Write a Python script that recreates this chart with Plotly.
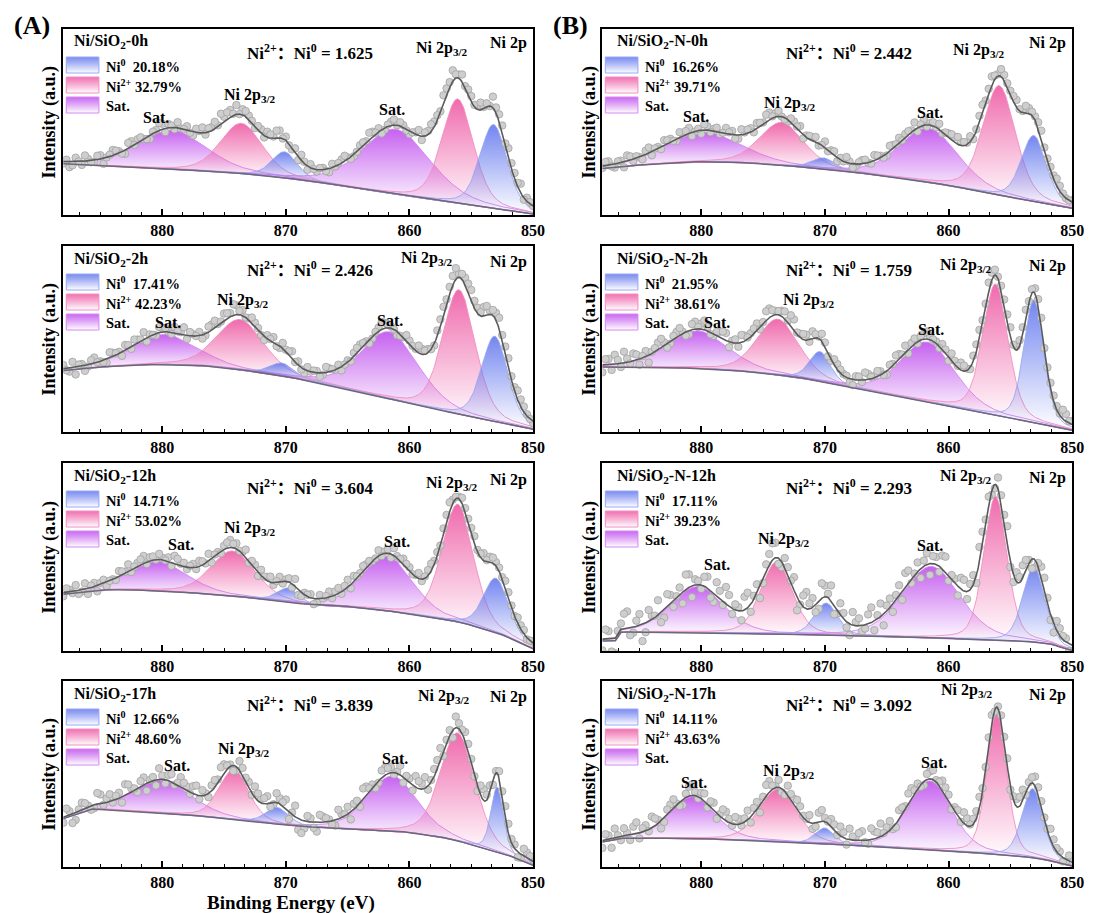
import numpy as np
import plotly.graph_objects as go

FONT = "Liberation Serif"
FONT_CJK = "Liberation Serif, Noto Sans CJK SC"

# binding-energy axis (reversed, eV)
E_LEFT, E_RIGHT = 888.0, 850.0
TICK_EV = [880, 870, 860, 850]
POINT_STEP = 0.5          # each residual list is sampled every 0.5 eV; the second list is offset by 0.25 eV

# fitted components, same order in every panel
PEAK_KIND = ["Ni0", "Ni2+", "Sat", "Ni0", "Ni2+", "Sat"]

# ---------------- Ni/SiO2 series ----------------
A1_title, A1_ni0, A1_ni2, A1_ratio = "Ni/SiO<sub>2</sub>-0h", "20.18%", "32.79%", "1.625"
A1_bg_ev = [888, 882, 876, 872, 868, 864, 860, 856, 852, 850]
A1_bg_int = [27.5, 25.5, 23.5, 21.5, 18.3, 14.0, 10.0, 6.3, 2.5, 0.5]
A1_center = [853.2, 856.1, 861.1, 870.1, 873.6, 879.2]
A1_height = [45, 56, 35, 14, 27, 21]
A1_fwhm = [2.6, 3.0, 6.5, 2.4, 4.0, 6.5]
A1_resid = [-1, -3, 2, -2, 1, -1, 2, 0, 3, 1, -2,
            3, 2, 0, -2, 1, 3, 2, -1, 0, 2, -2,
            1, -1, 2, 1, 3, 4, 5, 3, 2, -1, 2,
            3, 1, 4, 2, -1, -2, 1, 2, -1, 1, -2,
            0, 2, 1, -1, 2, 1, 3, 2, -1, 2, 0,
            1, -2, 1, -2, 2, 3, 1, 4, 6, 2, 1,
            3, 2, 1, 0, 3, 4, 5, 3, 5, 2, 0]
A1_resid2 = [1, -2, 0, 3, -1, 2, -3, 1, 2, -1, 3,
             0, 2, -1, 1, 4, -2, 1, 3, 0, -1, 2,
             3, 2, 4, 6, 4, 1, 0, 3, 1, 2, -1,
             2, 4, 0, -1, 2, 3, -2, 0, 1, -1, 2,
             1, 3, -1, 0, 2, 4, 1, -2, 1, 3, 2,
             -1, 0, 3, 2, 4, 3, 5, 3, 2, 4, 3,
             1, 4, 2, 6, 4, 1, 3, 2, -1, 1]

A2_title, A2_ni0, A2_ni2, A2_ratio = "Ni/SiO<sub>2</sub>-2h", "17.41%", "42.23%", "2.426"
A2_bg_ev = [888, 884, 880, 876, 872, 868, 864, 860, 856, 852, 850]
A2_bg_int = [33, 35.5, 36.5, 35.5, 32, 27.5, 21.5, 15.3, 9.5, 4, 1.5]
A2_center = [853.1, 856.0, 861.6, 870.3, 873.7, 879.8]
A2_height = [46, 67, 36, 7, 27, 16]
A2_fwhm = [2.5, 3.1, 5.5, 2.2, 4.5, 6.0]
A2_resid = [2, -2, -4, 1, -1, 3, 0, -2, 2, 1, 3,
            -1, 2, 4, 1, -1, 2, 0, 3, 1, -2, 1,
            2, -1, 3, 1, 4, 2, 5, 3, 1, 2, -1,
            2, 3, -1, 1, 4, 2, -2, 0, 1, -1, 2,
            0, -2, 1, 2, 3, 1, -1, 2, 3, 1, -2,
            0, 2, 1, 3, 2, -1, 4, 3, 5, 2, 4,
            6, 3, 5, 2, 4, 3, 5, 2, 4, 1, -1]
A2_resid2 = [-1, 3, 1, -3, 2, 0, -1, 3, 1, -2, 2,
             3, 1, -2, 0, 3, 2, -1, 1, 4, 2, 0,
             -2, 3, 4, 1, 3, 6, 2, 0, 3, 1, -2,
             1, -1, 3, 2, 0, -1, 2, 1, -2, 3, 1,
             2, 0, -1, 3, 2, -2, 1, 4, 2, 0, -1,
             3, 1, 4, 2, 0, 3, 5, 4, 6, 3, 5,
             4, 2, 5, 3, 6, 4, 2, 5, 3, 0]

A3_title, A3_ni0, A3_ni2, A3_ratio = "Ni/SiO<sub>2</sub>-12h", "14.71%", "53.02%", "3.604"
A3_bg_ev = [888, 884, 880, 876, 872, 868, 864.5, 860, 856, 854, 852, 850]
A3_bg_int = [30.2, 32.9, 32.0, 30.2, 27.9, 24.5, 23.5, 19.9, 15.5, 11.9, 7.5, 1.2]
A3_center = [853.0, 856.1, 861.8, 869.8, 874.3, 880.3]
A3_height = [29, 62.5, 29, 7.5, 24, 15.5]
A3_fwhm = [2.4, 3.0, 4.8, 2.0, 4.2, 5.5]
A3_resid = [-2, 1, 3, -1, -3, 2, 1, -2, 0, 3, 1,
            -1, 2, 4, 2, 0, 1, 2, 4, 1, -1, 2,
            3, 0, -2, 1, 2, 4, 3, 1, -1, 2, 3,
            2, -1, 3, 1, -2, -3, 1, 2, -2, 0, 3,
            2, -1, 4, 3, 1, 2, 0, 3, 1, -2, 1,
            3, 2, 1, -1, 3, 2, 0, 4, 2, 1, 2,
            3, 1, 4, 3, 2, 1, 3, 0, 2, -1, 1]
A3_resid2 = [2, -1, -2, 3, 1, -3, 2, 0, -1, 2, 4,
             1, 3, -1, 2, 3, 0, -2, 3, 2, 1, -1,
             2, 4, 1, -1, 3, 2, 0, 4, 2, -2, 1,
             3, 1, -1, 2, 4, -2, 1, -3, 2, 1, -1,
             3, 2, -2, 1, 3, 2, 0, -1, 2, 4, 1,
             2, 0, 3, 1, 4, 2, 3, 5, 1, 3, 2,
             4, 2, 1, 3, 2, 4, 1, 3, 2, 0]

A4_title, A4_ni0, A4_ni2, A4_ratio = "Ni/SiO<sub>2</sub>-17h", "12.66%", "48.60%", "3.839"
A4_bg_ev = [888, 885.5, 880, 876, 872, 870, 865, 860, 856.7, 853.8, 851.6, 850]
A4_bg_int = [26, 31.5, 29, 27, 24, 22.5, 20.2, 18.8, 15.2, 9.8, 5.4, 0.9]
A4_center = [852.9, 856.1, 861.4, 870.7, 874.2, 880.0]
A4_height = [35, 58, 29.7, 9, 26.7, 17.4]
A4_fwhm = [1.2, 3.3, 4.8, 2.2, 2.8, 5.5]
A4_resid = [-3, 2, -4, 4, 1, -2, 5, 2, -1, 3, 6,
            2, -2, 4, 1, -3, 2, 3, -1, 5, 2, 4,
            -2, 1, 3, 2, 5, 1, -2, 4, 3, 6, 2,
            4, -1, 3, 5, 1, -6, -4, 2, -5, 3, 1,
            -3, 2, 4, 3, -2, 5, 2, -1, 4, 3, 1,
            -3, 2, 6, 3, -2, 4, 7, 2, -4, 3, 5,
            2, -3, 6, 4, 1, 3, 5, 2, -2, 3, 1]
A4_resid2 = [4, -5, 1, 3, -2, 6, -1, 4, 2, -3, 5,
             1, 3, -4, 2, 6, -2, 4, 1, 3, -1, 5,
             3, -2, 4, 6, 2, -3, 5, 2, -1, 4, 3,
             -2, 5, 2, -4, 6, -7, 3, -3, 4, 2, -2,
             5, 1, -4, 3, 6, 2, -2, 4, 3, -1, 5,
             2, -3, 4, 6, 1, 5, -2, 3, 6, 2, 4,
             -1, 5, 3, -2, 4, 6, 2, -3, 4, 2]

# ---------------- Ni/SiO2-N series ----------------
B1_title, B1_ni0, B1_ni2, B1_ratio = "Ni/SiO<sub>2</sub>-N-0h", "16.26%", "39.71%", "2.442"
B1_bg_ev = [888, 884, 880, 876, 872, 868, 864, 860, 856, 852, 850]
B1_bg_int = [25, 27.5, 28.7, 28.1, 26, 23.3, 20, 16, 10.7, 5.9, 3.6]
B1_center = [853.1, 855.9, 861.6, 870.1, 873.5, 879.8]
B1_height = [35.5, 59, 29, 6, 23, 16]
B1_fwhm = [2.4, 3.1, 5.6, 2.2, 4.2, 7.0]
B1_resid = [-1, 2, -2, 1, 3, -1, 0, 2, -2, 1, 3,
            2, -1, 1, 3, 0, -2, 2, 1, -1, 3, 2,
            -2, 1, 2, 3, 1, 4, 2, 0, -1, 2, 3,
            1, 2, -1, 3, 1, -2, 0, 1, -1, 2, 0,
            3, 1, -1, 2, 3, 2, 1, -2, 3, 1, 0,
            -1, 2, 3, 2, 1, -1, 4, 2, 5, 1, 3,
            2, 4, 1, 3, 2, 4, 1, 2, 3, 0, 1]
B1_resid2 = [2, -1, 1, -3, 2, 1, -2, 3, 1, -1, 2,
             0, 3, 2, -2, 1, 3, -1, 2, 0, 1, -2,
             3, 2, -1, 2, 4, 1, 3, -1, 2, 1, -2,
             2, 3, 0, -1, 2, 1, 3, -2, 1, 2, -1,
             2, -1, 3, 1, 0, 2, 4, 1, -1, 2, 3,
             1, 3, 4, 2, 3, 1, 5, 3, 2, 4, 2,
             3, 1, 4, 2, 3, 1, 2, 4, 1, 0]

B2_title, B2_ni0, B2_ni2, B2_ratio = "Ni/SiO<sub>2</sub>-N-2h", "21.95%", "38.61%", "1.759"
B2_bg_ev = [888, 884, 880, 876, 872, 868, 864, 860, 856, 852, 850]
B2_bg_int = [34.9, 34.8, 34.3, 32.5, 29.2, 24.3, 19.2, 14.2, 8.8, 3.6, 0.9]
B2_center = [853.1, 856.2, 861.7, 870.4, 873.8, 880.3]
B2_height = [66, 70.5, 32, 16, 30, 20]
B2_fwhm = [1.9, 2.4, 5.2, 2.0, 4.0, 5.8]
B2_resid = [-4, 3, 5, -2, 2, 4, -3, 3, 1, 4, 2,
            -1, 3, 1, -2, 4, 3, 2, -1, 3, 4, 1,
            -2, 3, 2, 4, 1, 5, 2, 3, 1, 6, 2,
            3, 4, 1, 2, -1, 3, 1, -2, 2, -1, 3,
            1, 2, -2, 1, 3, 4, 2, -1, 3, 2, 1,
            3, -2, 2, 4, 1, 3, 5, 2, 4, 1, 3,
            5, 2, 4, 1, 3, 5, 2, 3, 1, 4, 2]
B2_resid2 = [3, -3, 2, 6, -1, 3, 1, -4, 2, 5, -2,
             2, 4, -2, 3, 1, 5, -1, 2, 4, -3, 2,
             4, 1, 3, -1, 5, 3, 2, 4, 6, 1, 3,
             -1, 2, 4, -2, 3, 2, 1, -3, 2, 4, 1,
             3, -1, 2, 4, 1, -2, 3, 2, 4, 1, -1,
             2, 4, 1, 3, -1, 4, 2, 5, 3, 2, 4,
             1, 3, 5, 2, 4, 1, 3, 2, 5, 1]

B3_title, B3_ni0, B3_ni2, B3_ratio = "Ni/SiO<sub>2</sub>-N-12h", "17.11%", "39.23%", "2.293"
B3_bg_ev = [888, 886.9, 886.5, 884, 880, 876, 872, 868, 864, 860, 856, 853, 851.5, 850.8, 850]
B3_bg_int = [5.3, 5.5, 10.0, 10.2, 9.8, 9.3, 8.8, 8.2, 7.5, 6.7, 5.8, 4.9, 3.5, 1.5, 0.3]
B3_center = [853.1, 856.2, 861.4, 869.9, 873.9, 880.3]
B3_height = [40, 76.5, 38, 17, 38.5, 24.5]
B3_fwhm = [2.1, 2.2, 5.5, 2.2, 3.0, 5.0]
B3_resid = [-6, 4, -8, 3, 9, -3, 6, -5, 2, 8, -4,
            5, 1, -6, 7, 3, -2, 6, -5, 4, 9, -3,
            2, 7, -4, 5, -2, 6, 8, -3, 4, 7, -1,
            9, 5, -4, 6, 8, -2, 3, -6, 2, -3, 5,
            -5, 7, 3, -4, 6, 8, -2, 5, 3, -6, 4,
            7, -3, 2, 6, -4, 5, 8, 3, -2, 6, 4,
            -3, 5, 7, 2, -4, 6, 3, -5, 4, 2, -3]
B3_resid2 = [5, -7, 2, 8, -4, 3, -9, 6, 1, -5, 7,
             -3, 4, 8, -6, 2, 5, -4, 7, -2, 6, 3,
             -5, 8, 2, -6, 4, 9, -3, 5, 1, -7, 6,
             3, -4, 8, 2, -5, 6, -3, 7, 4, -2, 8,
             2, -6, 5, 3, -4, 7, 1, -5, 6, 4, -3,
             8, 2, -5, 6, 3, -4, 7, 5, -2, 4, 9,
             -4, 3, 6, -5, 2, 7, -3, 5, 2, -4]

B4_title, B4_ni0, B4_ni2, B4_ratio = "Ni/SiO<sub>2</sub>-N-17h", "14.11%", "43.63%", "3.092"
B4_bg_ev = [888, 886, 880, 876, 872, 868, 864, 860, 856, 853, 851, 850]
B4_bg_int = [13.5, 15.8, 15.2, 14.5, 13.1, 11.8, 10.4, 8.6, 6.8, 5.0, 2.3, 0.5]
B4_center = [853.2, 856.1, 861.5, 870.0, 873.8, 880.7]
B4_height = [37, 76, 37, 8.5, 28, 22.5]
B4_fwhm = [2.0, 1.9, 4.2, 1.8, 3.6, 4.3]
B4_resid = [-4, 2, 5, -2, 1, 4, -3, 3, 6, 2, -2,
            4, 1, -3, 5, 2, 3, -2, 4, 1, 5, -1,
            3, 2, -3, 4, 2, 6, 1, -2, 5, 3, 4,
            1, -3, 5, 2, 4, -1, 3, 6, 2, 5, -2,
            4, 7, 3, -1, 5, 2, 6, 3, -2, 4, 1,
            5, 3, 2, -1, 4, 3, 6, 2, 5, 1, 3,
            -2, 4, 6, 2, 5, 3, 1, 4, 2, -1, 3]
B4_resid2 = [3, -5, 1, 4, -3, 6, 2, -1, 4, -4, 3,
             5, -2, 2, 6, -1, 4, 3, -3, 5, 2, 4,
             -1, 5, 3, -4, 6, 2, 4, -2, 3, 5, 1,
             4, -2, 6, 1, 3, 5, -3, 2, 4, -1, 6,
             3, 1, 5, -2, 4, 6, 2, -1, 3, 5, 2,
             4, -2, 3, 6, 1, 4, 2, 5, -1, 3, 4,
             2, 5, -1, 3, 4, 1, 6, 2, -2, 3]


def panel(title, ni0, ni2, ratio, bg_ev, bg_int, center, height, fwhm, resid, resid2):
    return dict(title=title, ni0=ni0, ni2=ni2, ratio=ratio, bg=(bg_ev, bg_int),
                peaks=(center, height, fwhm), resid=(resid, resid2))


PANELS = [
    panel(A1_title, A1_ni0, A1_ni2, A1_ratio, A1_bg_ev, A1_bg_int, A1_center, A1_height, A1_fwhm, A1_resid, A1_resid2),
    panel(A2_title, A2_ni0, A2_ni2, A2_ratio, A2_bg_ev, A2_bg_int, A2_center, A2_height, A2_fwhm, A2_resid, A2_resid2),
    panel(A3_title, A3_ni0, A3_ni2, A3_ratio, A3_bg_ev, A3_bg_int, A3_center, A3_height, A3_fwhm, A3_resid, A3_resid2),
    panel(A4_title, A4_ni0, A4_ni2, A4_ratio, A4_bg_ev, A4_bg_int, A4_center, A4_height, A4_fwhm, A4_resid, A4_resid2),
    panel(B1_title, B1_ni0, B1_ni2, B1_ratio, B1_bg_ev, B1_bg_int, B1_center, B1_height, B1_fwhm, B1_resid, B1_resid2),
    panel(B2_title, B2_ni0, B2_ni2, B2_ratio, B2_bg_ev, B2_bg_int, B2_center, B2_height, B2_fwhm, B2_resid, B2_resid2),
    panel(B3_title, B3_ni0, B3_ni2, B3_ratio, B3_bg_ev, B3_bg_int, B3_center, B3_height, B3_fwhm, B3_resid, B3_resid2),
    panel(B4_title, B4_ni0, B4_ni2, B4_ratio, B4_bg_ev, B4_bg_int, B4_center, B4_height, B4_fwhm, B4_resid, B4_resid2),
]

# ---------------- layout / styling ----------------
W, H = 1099, 913
COL_PX = [(64, 539), (609, 1084)]
ROW_PX = [(29, 215), (246, 432), (463, 651), (681, 867)]

# text anchors for the peak labels, (eV, intensity) in each panel's own axes
LABEL_POS = [
    dict(p32r=(857.4, 89.7), p32l=(872.9, 64.4), satr=(861.4, 56.8), satl=(880.5, 52.5), ni2p=92.4),
    dict(p32r=(858.6, 93.4), p32l=(873.5, 70.9), satr=(861.6, 60.1), satl=(879.5, 58.7), ni2p=91.6),
    dict(p32r=(856.6, 89.3), p32l=(872.9, 65.3), satr=(861.0, 58.2), satl=(878.5, 56.4), ni2p=91.1),
    dict(p32r=(857.2, 91.5), p32l=(873.4, 63.0), satr=(861.2, 58.4), satl=(878.8, 54.8), ni2p=91.5),
    dict(p32r=(857.5, 88.7), p32l=(872.8, 60.0), satr=(861.5, 55.2), satl=(880.4, 52.9), ni2p=92.3),
    dict(p32r=(858.6, 89.5), p32l=(871.3, 70.8), satr=(861.4, 55.3), satl=(878.7, 58.9), ni2p=89.0),
    dict(p32r=(858.6, 92.9), p32l=(873.3, 59.1), satr=(861.5, 56.1), satl=(878.7, 45.8), ni2p=92.0),
    dict(p32r=(858.5, 95.0), p32l=(872.9, 51.6), satr=(861.2, 56.1), satl=(880.6, 45.3), ni2p=92.5),
]

PEAK_RGB = {"Ni0": (100, 120, 238), "Ni2+": (238, 90, 164), "Sat": (192, 80, 238)}
PEAK_LINE = {"Ni0": "rgb(152,168,242)", "Ni2+": "rgb(242,142,194)", "Sat": "rgb(212,136,242)"}
DRAW_ORDER = [5, 2, 4, 1, 3, 0]
ETA = 0.3


def rgba(rgb, a):
    return "rgba(%d,%d,%d,%.3f)" % (rgb[0], rgb[1], rgb[2], a)


def pvoigt(x, c, h, w, eta=ETA):
    d2 = 4.0 * (x - c) ** 2 / w ** 2
    return h * ((1 - eta) * np.exp(-np.log(2) * d2) + eta / (1 + d2))


def baseline(x, ev, val):
    ev = np.asarray(ev, float)
    val = np.asarray(val, float)
    o = np.argsort(ev)
    return np.interp(x, ev[o], val[o])


def fit_curve(x, bg_ev, bg_int, cen, hgt, fw):
    return baseline(x, bg_ev, bg_int) + np.sum(
        [pvoigt(x, c, h, w) for c, h, w in zip(cen, hgt, fw)], axis=0)


def bold(s):
    return "<b>" + s + "</b>"


grid = np.linspace(E_RIGHT, E_LEFT, 761)
minor_vals = [850 + k * 10 / 6 for k in range(0, 23) if k % 6 != 0]

fig = go.Figure()
annotations = []
axes = {}

for i, p in enumerate(PANELS):
    n = i + 1
    ci, ri = i // 4, i % 4
    sfx = "" if n == 1 else str(n)
    xr, yr = "x" + sfx, "y" + sfx
    l, r = COL_PX[ci]
    t, b = ROW_PX[ri]
    ph, pw = b - t, r - l

    axes["xaxis" + sfx] = dict(
        domain=[l / W, r / W], range=[E_LEFT, E_RIGHT], anchor=yr,
        showline=True, linecolor="black", linewidth=2, mirror=True,
        ticks="inside", ticklen=6, tickwidth=1.5, tickcolor="black",
        tickmode="array", tickvals=TICK_EV, ticktext=[str(v) for v in TICK_EV],
        tickfont=dict(family=FONT, size=16, color="black", weight="bold"),
        minor=dict(ticks="inside", ticklen=3, tickwidth=1.2, tickcolor="black",
                   tickmode="array", tickvals=minor_vals),
        showgrid=False, zeroline=False, fixedrange=True,
    )
    axes["yaxis" + sfx] = dict(
        domain=[1 - b / H, 1 - t / H], range=[0, 100], anchor=xr,
        showline=True, linecolor="black", linewidth=2, mirror=True,
        ticks="", showticklabels=False, showgrid=False, zeroline=False, fixedrange=True,
    )

    bg_ev, bg_int = p["bg"]
    cen, hgt, fw = p["peaks"]
    bg_g = baseline(grid, bg_ev, bg_int)
    comps = [pvoigt(grid, c, h, w) for c, h, w in zip(cen, hgt, fw)]
    env = bg_g + np.sum(comps, axis=0)

    # fitted components, shaded from the baseline up
    for k in DRAW_ORDER:
        comp = comps[k]
        m = comp > 0.004 * hgt[k]
        core = comp > 0.1 * hgt[k]
        xk, top, bot = grid[m], bg_g[m] + comp[m], bg_g[m]
        kind = PEAK_KIND[k]
        rgb = PEAK_RGB[kind]
        fig.add_trace(go.Scatter(
            x=np.r_[xk, xk[::-1]], y=np.r_[top, bot[::-1]],
            mode="lines", fill="toself",
            line=dict(color=PEAK_LINE[kind], width=0.9),
            fillgradient=dict(type="vertical",
                              start=float(bg_g[core].min()), stop=float(top.max()),
                              colorscale=[[0, rgba(rgb, 0.02)], [1, rgba(rgb, 0.9)]]),
            xaxis=xr, yaxis=yr, hoverinfo="skip", showlegend=False,
        ))

    # measured points = fit envelope + residual (two interleaved 0.5 eV sets)
    for off, res in zip((0.0, 0.25), p["resid"]):
        res = np.asarray(res, float)
        ev_pts = E_LEFT - off - POINT_STEP * np.arange(len(res))
        fig.add_trace(go.Scatter(
            x=ev_pts, y=fit_curve(ev_pts, bg_ev, bg_int, cen, hgt, fw) + res, mode="markers",
            marker=dict(size=7.5, color="#cecece", line=dict(color="#a2a2a2", width=0.8)),
            xaxis=xr, yaxis=yr, hoverinfo="skip", showlegend=False,
        ))
    # baseline and envelope
    fig.add_trace(go.Scatter(x=grid, y=bg_g, mode="lines", line=dict(color="#6b6878", width=1.5),
                             xaxis=xr, yaxis=yr, hoverinfo="skip", showlegend=False))
    fig.add_trace(go.Scatter(x=grid, y=env, mode="lines", line=dict(color="#5a5a5a", width=1.6),
                             xaxis=xr, yaxis=yr, hoverinfo="skip", showlegend=False))

    # legend block in the upper-left corner
    def px2ev(dx):
        return E_LEFT - dx / pw * (E_LEFT - E_RIGHT)

    def py2u(dy):
        return 100 - dy / ph * 100

    sx0, sx1 = px2ev(3), px2ev(36)
    legend_rows = [("Ni0", "Ni<sup>0</sup>  " + p["ni0"]),
                   ("Ni2+", "Ni<sup>2+</sup> " + p["ni2"]),
                   ("Sat", "Sat.")]
    for j, (kind, txt) in enumerate(legend_rows):
        off = 28 + 20 * j
        yt, yb = py2u(off), py2u(off + 16)
        rgb = PEAK_RGB[kind]
        fig.add_trace(go.Scatter(
            x=[sx0, sx1, sx1, sx0, sx0], y=[yb, yb, yt, yt, yb],
            mode="lines", fill="toself", line=dict(color=PEAK_LINE[kind], width=1),
            fillgradient=dict(type="vertical",
                              colorscale=[[0, "rgba(255,255,255,1)"], [1, rgba(rgb, 0.85)]]),
            xaxis=xr, yaxis=yr, hoverinfo="skip", showlegend=False,
        ))
        annotations.append(dict(
            text=bold(txt), xref=xr + " domain", yref=yr, x=41 / pw, y=py2u(off + 9),
            xanchor="left", yanchor="middle", showarrow=False,
            font=dict(family=FONT, size=14.5, color="black")))
    annotations.append(dict(
        text=bold(p["title"]), xref=xr + " domain", yref=yr + " domain",
        x=(9 if ci == 0 else 13) / pw, y=1 - 13 / ph, xanchor="left", yanchor="middle",
        showarrow=False, font=dict(family=FONT, size=16, color="black")))

    # ratio and peak labels
    annotations.append(dict(
        text=bold("Ni<sup>2+</sup>：Ni<sup>0</sup> = " + p["ratio"]),
        xref=xr + " domain", yref=yr, x=0.526, y=87.5, xanchor="center", yanchor="middle",
        showarrow=False, font=dict(family=FONT_CJK, size=17, color="black")))
    lp = LABEL_POS[i]
    for key, txt in [("p32r", "Ni 2p<sub>3/2</sub>"), ("p32l", "Ni 2p<sub>3/2</sub>"),
                     ("satr", "Sat."), ("satl", "Sat.")]:
        annotations.append(dict(
            text=bold(txt), xref=xr, yref=yr, x=lp[key][0], y=lp[key][1],
            xanchor="center", yanchor="middle", showarrow=False,
            font=dict(family=FONT, size=16, color="black")))
    annotations.append(dict(
        text=bold("Ni 2p"), xref=xr + " domain", yref=yr, x=1 - 4 / pw, y=lp["ni2p"],
        xanchor="right", yanchor="middle", showarrow=False,
        font=dict(family=FONT, size=16, color="black")))

    # y-axis title
    annotations.append(dict(
        text=bold("Intensity (a.u.)"), xref="paper", yref="paper",
        x=(50 if ci == 0 else 596) / W, y=1 - (t + b) / 2 / H, textangle=-90,
        xanchor="center", yanchor="middle", showarrow=False,
        font=dict(family=FONT, size=18, color="black")))

# panel letters and x title
annotations.append(dict(text=bold("(A)"), xref="paper", yref="paper", x=12 / W, y=1 - 26 / H,
                        xanchor="left", yanchor="middle", showarrow=False,
                        font=dict(family=FONT, size=26, color="black")))
annotations.append(dict(text=bold("(B)"), xref="paper", yref="paper", x=557 / W, y=1 - 26 / H,
                        xanchor="left", yanchor="middle", showarrow=False,
                        font=dict(family=FONT, size=26, color="black")))
annotations.append(dict(text=bold("Binding Energy (eV)"), xref="paper", yref="paper",
                        x=294 / W, y=1 - 903 / H, xanchor="center", yanchor="middle",
                        showarrow=False, font=dict(family=FONT, size=19, color="black")))

fig.update_layout(
    width=W, height=H, margin=dict(l=0, r=0, t=0, b=0),
    paper_bgcolor="white", plot_bgcolor="white", showlegend=False,
    font=dict(family=FONT, color="black"), annotations=annotations, **axes,
)

fig.write_html("out.html")
